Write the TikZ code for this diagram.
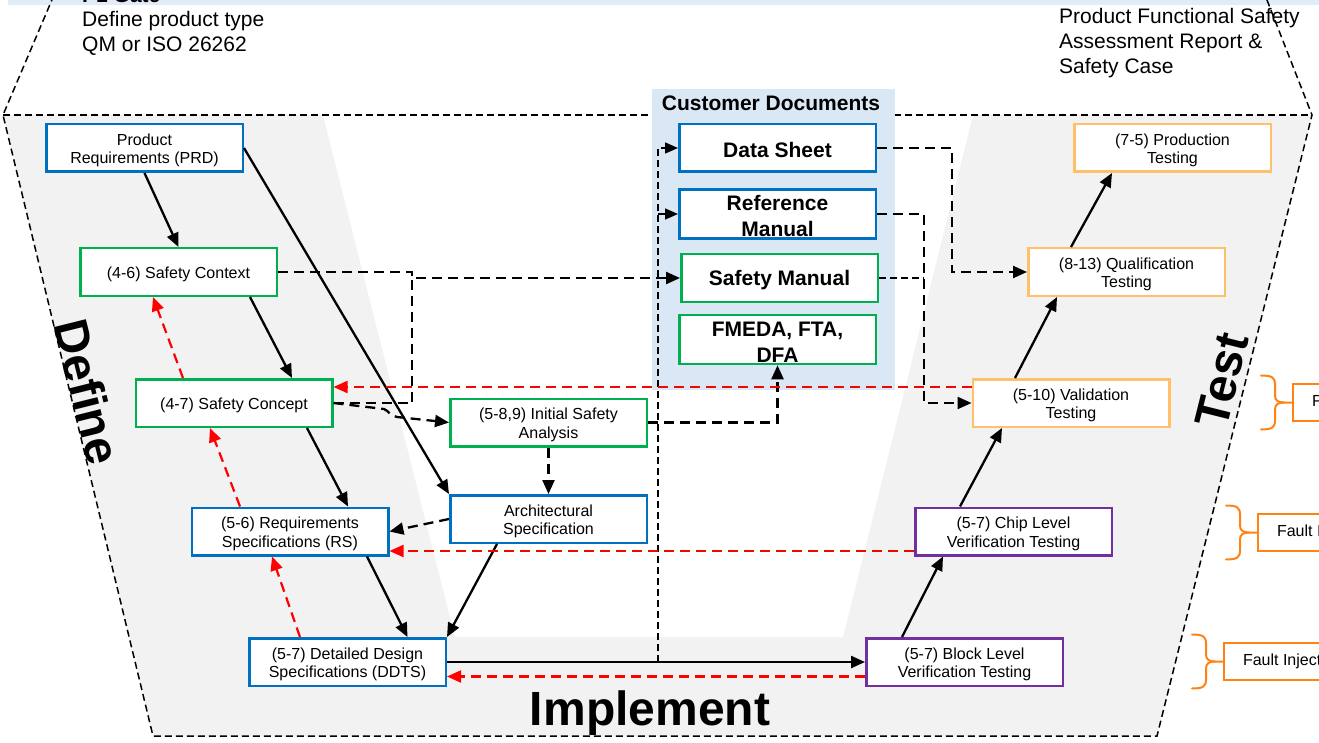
\documentclass[tikz,border=0pt]{standalone}
\usepackage{fontspec}
\setmainfont{Liberation Sans}
\usetikzlibrary{arrows.meta,calc}

\definecolor{vblue}{RGB}{0,112,192}
\definecolor{vgreen}{RGB}{0,176,80}
\definecolor{vpeach}{RGB}{255,192,105}
\definecolor{vpurple}{RGB}{112,48,160}
\definecolor{vorange}{RGB}{255,130,20}
\definecolor{vred}{RGB}{255,0,0}
\definecolor{docblue}{RGB}{218,232,245}
\definecolor{bandblue}{RGB}{224,236,247}
\definecolor{phasegray}{RGB}{242,242,242}

% struts that give the first line of a box its full ascent
\newcommand\boxstrut{\rule{0pt}{16.5pt}}
\newcommand\docstrut{\rule{0pt}{19.5pt}}

\tikzset{
  fbrace/.pic={
    \draw[vorange, line width=2pt, line cap=round]
      (-31,-27) .. controls (-20,-27) and (-17,-25) .. (-17,-18) -- (-17,-7)
      .. controls (-17,-2) and (-14,0) .. (-8,0) -- (0,0);
    \draw[vorange, line width=2pt, line cap=round]
      (-31,27) .. controls (-20,27) and (-17,25) .. (-17,18) -- (-17,7)
      .. controls (-17,2) and (-14,0) .. (-8,0);
  }
}

\begin{document}
\begin{tikzpicture}[x=1pt,y=-1pt,
  box/.style={draw, fill=white, line width=2.5pt, minimum width=196.5pt,
    minimum height=47.5pt, inner sep=2pt, align=center,
    font=\fontsize{16}{18.5}\selectfont},
  docbox/.style={draw, fill=white, line width=2.5pt, minimum width=196.5pt,
    minimum height=47.5pt, inner sep=2pt, align=center,
    font=\fontsize{21}{25.5}\selectfont\bfseries},
  faultbox/.style={draw=vorange, fill=white, line width=2pt, minimum height=37pt,
    inner xsep=19pt, anchor=west, font=\fontsize{16}{18.5}\selectfont},
  bigtext/.style={font=\fontsize{21}{25.5}\selectfont, inner sep=0pt, anchor=base west},
  phase/.style={font=\fontsize{48}{48}\selectfont\bfseries, inner sep=0pt},
  outline/.style={line width=1.5pt, dash pattern=on 7pt off 4pt},
  sconn/.style={line width=2.3pt, -{Triangle[length=14pt,width=12pt]}},
  dconn/.style={line width=2.3pt, dash pattern=on 10pt off 6pt},
  darrow/.style={dconn, -{Triangle[length=14pt,width=12pt]}},
  tconn/.style={line width=1.5pt, dash pattern=on 7pt off 4pt},
  tarrow/.style={tconn, -{Triangle[length=13pt,width=11pt]}},
  rconn/.style={vred, line width=2.2pt, dash pattern=on 10pt off 6pt,
    -{Triangle[length=14pt,width=12pt]}},
]
\useasboundingbox (0,0) rectangle (1319,743);
\clip (0,0) rectangle (1319,743);

% backgrounds
\fill[bandblue] (8,0) rectangle (1319,5);
\fill[phasegray] (3,115) -- (1312,115) -- (1157,736) -- (153,736) -- cycle;
\fill[white] (323,115) -- (973,115) -- (843,637) -- (455,637) -- cycle;
\draw[outline] (54,-5) -- (3,115) -- (153,736) -- (1157,736) -- (1312,115) -- (1265,-5);
\draw[outline] (3,115) -- (1312,115);
\fill[docblue] (652,89) rectangle (895,390);

% header texts
\node[font=\fontsize{21}{25.5}\selectfont\bfseries, inner sep=0pt, anchor=base west] (gate) at (82,3) {P1 Gate};
\node[bigtext] (def1) at (82,27) {Define product type};
\node[bigtext] (def2) at (82,52) {QM or ISO 26262};
\node[bigtext] (rep1) at (1059,24) {Product Functional Safety};
\node[bigtext] (rep2) at (1059,49) {Assessment Report \&};
\node[bigtext] (rep3) at (1059,74) {Safety Case};
\node[font=\fontsize{21}{25.5}\selectfont\bfseries, inner sep=0pt, anchor=base] (cdocs) at (771,111) {Customer Documents};

% phase labels
\node[phase, rotate=-76] (lblDefine) at (88,392) {Define};
\node[phase, rotate=76] (lblTest) at (1222,380) {Test};
\node[phase, anchor=base] (lblImpl) at (650,725) {Implement};

% define side
\node[box, draw=vblue] (PRD) at (144.5,148) {\boxstrut Product\\Requirements (PRD)};
\node[box, draw=vgreen] (SC) at (178.5,272) {\boxstrut (4-6) Safety Context};
\node[box, draw=vgreen] (SCon) at (234,403) {\boxstrut (4-7) Safety Concept};
\node[box, draw=vblue] (RS) at (290,531.5) {\boxstrut (5-6) Requirements\\Specifications (RS)};
\node[box, draw=vblue] (DDTS) at (347.5,662) {\boxstrut (5-7) Detailed Design\\Specifications (DDTS)};
\node[box, draw=vgreen] (ISA) at (548.5,422.5) {\boxstrut (5-8,9) Initial Safety\\Analysis};
\node[box, draw=vblue] (AS) at (548.5,519) {\boxstrut Architectural\\Specification};

% customer documents
\node[docbox, draw=vblue] (DS) at (777.5,148) {\docstrut Data Sheet};
\node[docbox, draw=vblue] (RM) at (777.5,214) {\docstrut Reference\\Manual};
\node[docbox, draw=vgreen] (SM) at (779.5,278) {\docstrut Safety Manual};
\node[docbox, draw=vgreen] (FM) at (777.5,339.5) {\docstrut FMEDA, FTA,\\DFA};

% test side
\node[box, draw=vpeach] (PT) at (1172.5,148) {\boxstrut (7-5) Production\\Testing};
\node[box, draw=vpeach] (QT) at (1126.5,272) {\boxstrut (8-13) Qualification\\Testing};
\node[box, draw=vpeach] (VT) at (1071,403) {\boxstrut (5-10) Validation\\Testing};
\node[box, draw=vpurple] (CL) at (1013.5,531.5) {\boxstrut (5-7) Chip Level\\Verification Testing};
\node[box, draw=vpurple] (BL) at (964.5,662) {\boxstrut (5-7) Block Level\\Verification Testing};

% fault injection boxes with braces
\node[faultbox] (F1) at (1292,402.5) {Fault Injection};
\node[faultbox] (F2) at (1257,532.5) {Fault Injection};
\node[faultbox] (F3) at (1223,661.5) {Fault Injection};
\pic at (F1.west) {fbrace};
\pic at (F2.west) {fbrace};
\pic at (F3.west) {fbrace};

% solid flow
\draw[sconn] (PRD.south) -- (SC.north);
\draw[sconn] (PRD.east) -- (AS.north west);
\draw[sconn] ([xshift=71.5pt]SC.south) -- ([xshift=58pt]SCon.north);
\draw[sconn] ([xshift=73pt]SCon.south) -- ([xshift=58pt]RS.north);
\draw[sconn] ([xshift=77pt]RS.south) -- ([xshift=60pt]DDTS.north);
\draw[sconn] ([xshift=-51.5pt]AS.south) -- (DDTS.north east);
\draw[sconn] (DDTS.east) -- (BL.west);
\draw[sconn] ([xshift=-62.5pt]BL.north) -- ([xshift=-70.5pt]CL.south);
\draw[sconn] ([xshift=-53.5pt]CL.north) -- ([xshift=-69pt]VT.south);
\draw[sconn] ([xshift=-56pt]VT.north) -- ([xshift=-69.5pt]QT.south);
\draw[sconn] ([xshift=-55.5pt]QT.north) -- ([xshift=-60.5pt]PT.south);

% dashed information flow
\coordinate (j1) at (412,272);
\coordinate (j2) at (412,278);
\coordinate (j3) at (412,403);
\draw[darrow] (SC.east) -- (j1) -- (j2) -- (SM.west);
\draw[dconn] (SCon.east) -- (j3) -- (j2);
\draw[darrow] (SCon.east) -- (384,409) .. controls (389,411) and (390,416) .. (397,417) -- (ISA.west);
\draw[darrow] (ISA.east) -| (FM.south);
\draw[darrow] (ISA.south) -- (AS.north);
\draw[darrow] (AS.west) -- (RS.east);
\coordinate (d1) at (952,148);
\draw[darrow] (DS.east) -- (d1) |- (QT.west);
\coordinate (d2) at (924,214);
\draw[darrow] (RM.east) -- (d2) |- (VT.west);
\draw[tconn] (SM.east) -- (d2 |- SM.east);
\coordinate (v0) at (658,662);
\draw[tarrow] (v0) |- (DS.west);
\coordinate (v1) at (v0 |- RM.west);
\draw[tarrow] (v1) -- (RM.west);

% verification feedback
\draw[rconn] ([xshift=-51pt]SCon.north) -- ([xshift=-25.5pt]SC.south);
\draw[rconn] ([xshift=-50pt]RS.north) -- ([xshift=-24pt]SCon.south);
\draw[rconn] ([xshift=-47.5pt]DDTS.north) -- ([xshift=-18pt]RS.south);
\draw[rconn] ([yshift=16pt]VT.west) -- ([yshift=16pt]SCon.east);
\draw[rconn] ([yshift=-19.5pt]CL.west) -- ([yshift=-19.5pt]RS.east);
\draw[rconn] ([yshift=-14.5pt]BL.west) -- ([yshift=-14.5pt]DDTS.east);
\end{tikzpicture}
\end{document}
